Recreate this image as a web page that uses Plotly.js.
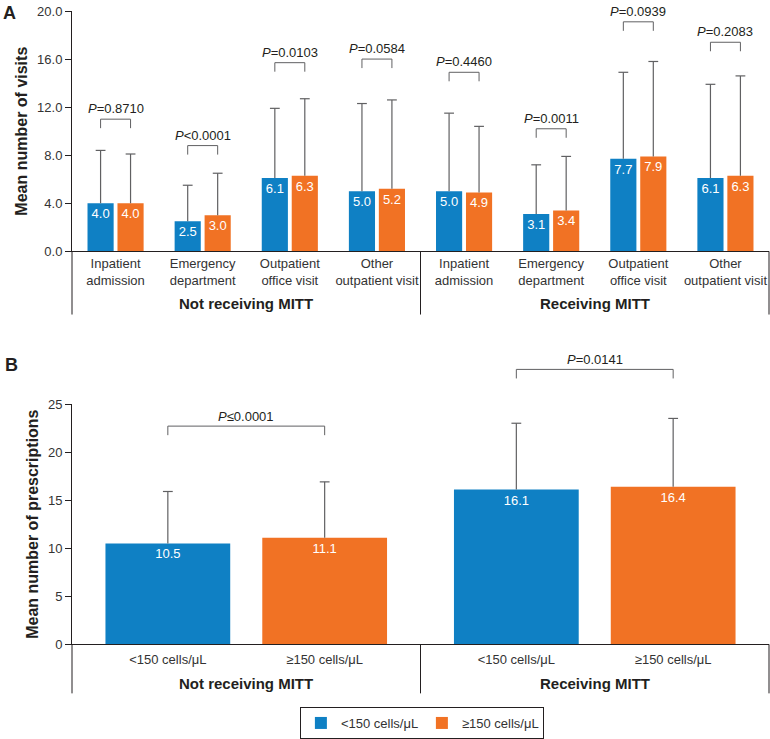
<!DOCTYPE html>
<html>
<head>
<meta charset="utf-8">
<script src="https://cdn.plot.ly/plotly-3.0.1.min.js"></script>
<style>html,body{margin:0;padding:0;background:#fff;}#chart{width:770px;height:739px;}</style>
</head>
<body>
<div id="chart"></div>
<script>
// ---------- data ----------
const visitCategories = ['Inpatient<br>admission', 'Emergency<br>department', 'Outpatient<br>office visit', 'Other<br>outpatient visit',
                         'Inpatient<br>admission', 'Emergency<br>department', 'Outpatient<br>office visit', 'Other<br>outpatient visit'];
const cohortGroups = ['Not receiving MITT', 'Receiving MITT'];
const seriesNames = ['<150 cells/μL', '≥150 cells/μL'];

const visitsLow = [4.0, 2.5, 6.1, 5.0, 5.0, 3.1, 7.7, 6.1];
const visitsHigh = [4.0, 3.0, 6.3, 5.2, 4.9, 3.4, 7.9, 6.3];
const visitsLowSD = [4.4, 3.0, 5.8, 7.3, 6.5, 4.1, 7.2, 7.8];
const visitsHighSD = [4.1, 3.5, 6.4, 7.4, 5.5, 4.5, 7.9, 8.3];
const visitsPValues = ['P=0.8710', 'P<0.0001', 'P=0.0103', 'P=0.0584', 'P=0.4460', 'P=0.0011', 'P=0.0939', 'P=0.2083'];
const visitsBracketLevel = [11.0, 8.8, 15.7, 16.0, 14.9, 10.2, 19.1, 17.4];

const rxLow = [10.5, 16.1];
const rxHigh = [11.1, 16.4];
const rxLowSD = [5.4, 6.9];
const rxHighSD = [5.8, 7.1];
const rxPValues = ['P≤0.0001', 'P=0.0141'];
const rxBracketLevel = [22.7, 28.6];

// ---------- style ----------
const BLUE = '#0f80c4';
const ORANGE = '#f17224';
const INK = '#231f20';
const TXT = '#333333';
const GREY = '#606062';
const FONT = 'Liberation Sans, Arial, sans-serif';

const esc = s => s.replace(/</g, '&lt;');
const fmtP = s => '<i>P</i>' + esc(s.slice(1));

const aHalf = 0.172, aW = 0.30;
const bHalf = 0.225, bW = 0.358;
const idxA = visitsLow.map((_, i) => i);
const idxB = rxLow.map((_, i) => i);

function errBar(arr) {
  return {type: 'data', symmetric: false, array: arr, arrayminus: arr.map(() => 0),
          color: GREY, thickness: 1.2, width: 0};
}
function barTrace(name, x, y, sd, xa, ya, offset, w, color, group, legend) {
  return {type: 'bar', name: esc(name), x: x, y: y, xaxis: xa, yaxis: ya,
    offset: offset, width: w, marker: {color: color}, error_y: errBar(sd),
    text: y.map(v => v.toFixed(1)), textposition: 'inside', insidetextanchor: 'end', textangle: 0,
    insidetextfont: {color: '#ffffff', size: 13, family: FONT}, legendgroup: group, showlegend: legend, hoverinfo: 'y'};
}
function capTrace(x, y, sd, shift, xa, ya) {
  return {type: 'scatter', mode: 'markers', x: x.map(i => i + shift), y: y.map((v, k) => v + sd[k]),
    xaxis: xa, yaxis: ya, showlegend: false, hoverinfo: 'skip', cliponaxis: false,
    marker: {symbol: 'line-ew', size: 7, line: {color: GREY, width: 1.2}}};
}

const traces = [
  barTrace(seriesNames[0], idxA, visitsLow, visitsLowSD, 'x', 'y', -aHalf - aW / 2, aW, BLUE, 'lo', true),
  barTrace(seriesNames[1], idxA, visitsHigh, visitsHighSD, 'x', 'y', aHalf - aW / 2, aW, ORANGE, 'hi', true),
  barTrace(seriesNames[0], idxB, rxLow, rxLowSD, 'x2', 'y2', -bHalf - bW / 2, bW, BLUE, 'lo', false),
  barTrace(seriesNames[1], idxB, rxHigh, rxHighSD, 'x2', 'y2', bHalf - bW / 2, bW, ORANGE, 'hi', false),
  capTrace(idxA, visitsLow, visitsLowSD, -aHalf, 'x', 'y'),
  capTrace(idxA, visitsHigh, visitsHighSD, aHalf, 'x', 'y'),
  capTrace(idxB, rxLow, rxLowSD, -bHalf, 'x2', 'y2'),
  capTrace(idxB, rxHigh, rxHighSD, bHalf, 'x2', 'y2')
];

const shapes = [];
const annotations = [];

// P-value brackets, panel A
const legA = 0.75;
idxA.forEach(i => {
  const lv = visitsBracketLevel[i];
  shapes.push({type: 'path', xref: 'x', yref: 'y', line: {color: GREY, width: 1},
    path: `M${i - aHalf},${lv - legA} L${i - aHalf},${lv} L${i + aHalf},${lv} L${i + aHalf},${lv - legA}`});
  annotations.push({xref: 'x', yref: 'y', x: i, y: lv, yanchor: 'bottom', yshift: 1, showarrow: false,
    text: fmtP(visitsPValues[i]), font: {size: 13, color: INK, family: FONT}});
});
// P-value brackets, panel B (domain refs so they can sit above the axis range)
const rangeB = [0, 25];
const legB = 0.94;
idxB.forEach(i => {
  const lv = rxBracketLevel[i] / rangeB[1], lo = (rxBracketLevel[i] - legB) / rangeB[1];
  shapes.push({type: 'path', xref: 'x2', yref: 'y2 domain', line: {color: GREY, width: 1},
    path: `M${i - bHalf},${lo} L${i - bHalf},${lv} L${i + bHalf},${lv} L${i + bHalf},${lo}`});
  annotations.push({xref: 'x2', yref: 'y2 domain', x: i, y: lv, yanchor: 'bottom', yshift: 0, showarrow: false,
    text: fmtP(rxPValues[i]), font: {size: 13, color: INK, family: FONT}});
});

// bottom category boxes
[0, 0.5, 1].forEach(xd => {
  shapes.push({type: 'line', xref: 'x domain', yref: 'y domain', x0: xd, x1: xd, y0: 0, y1: -0.263, line: {color: INK, width: 1}});
  shapes.push({type: 'line', xref: 'x2 domain', yref: 'y2 domain', x0: xd, x1: xd, y0: 0, y1: -0.204, line: {color: INK, width: 1}});
});

// group labels
cohortGroups.forEach((g, k) => {
  annotations.push({xref: 'x domain', yref: 'y domain', x: 0.25 + 0.5 * k, y: -0.216, yanchor: 'middle', xanchor: 'center', showarrow: false,
    text: '<b>' + g + '</b>', font: {size: 15, color: INK, family: FONT}});
  annotations.push({xref: 'x2', yref: 'y2 domain', x: k, y: -0.163, yanchor: 'middle', xanchor: 'center', showarrow: false,
    text: '<b>' + g + '</b>', font: {size: 15, color: INK, family: FONT}});
});

// panel letters
annotations.push({xref: 'paper', yref: 'paper', x: -0.102, y: 0.998, xanchor: 'left', yanchor: 'top', showarrow: false,
  text: '<b>A</b>', font: {size: 18, color: INK, family: FONT}});
annotations.push({xref: 'paper', yref: 'paper', x: -0.099, y: 0.523, xanchor: 'left', yanchor: 'top', showarrow: false,
  text: '<b>B</b>', font: {size: 18, color: INK, family: FONT}});

const tickB = [];
const tickTextB = [];
idxB.forEach(i => { tickB.push(i - bHalf, i + bHalf); tickTextB.push(esc(seriesNames[0]), esc(seriesNames[1])); });

const axBase = {showgrid: false, zeroline: false, showline: true, linecolor: INK, linewidth: 1,
  tickfont: {size: 13, color: TXT, family: FONT}};

const layout = {
  width: 770, height: 739,
  margin: {l: 72, r: 1, t: 0, b: 0, autoexpand: false},
  paper_bgcolor: '#ffffff', plot_bgcolor: '#ffffff',
  font: {family: FONT, color: INK},
  barmode: 'overlay',
  showlegend: true,
  legend: {orientation: 'h', x: 0.502, xanchor: 'center', y: 0.0, yanchor: 'bottom',
    bordercolor: INK, borderwidth: 1, bgcolor: '#ffffff', font: {size: 13, color: TXT, family: FONT},
    itemwidth: 30, traceorder: 'normal', entrywidth: 76, entrywidthmode: 'pixels'},
  xaxis: Object.assign({}, axBase, {domain: [0, 1], anchor: 'y', range: [-0.5, 7.5],
    ticks: '', tickvals: idxA, ticktext: visitCategories}),
  yaxis: Object.assign({}, axBase, {domain: [0.6599, 0.9851], anchor: 'x', range: [0, 20], dtick: 4, tickformat: '.1f',
    ticks: 'outside', ticklen: 6, tickcolor: INK,
    title: {text: '<b>Mean number of visits</b>', font: {size: 16, color: INK, family: FONT}, standoff: 5}}),
  xaxis2: Object.assign({}, axBase, {domain: [0, 1], anchor: 'y2', range: [-0.5, 1.5],
    ticks: 'outside', ticklen: 3, tickcolor: 'rgba(0,0,0,0)',
    tickvals: tickB, ticktext: tickTextB}),
  yaxis2: Object.assign({}, axBase, {domain: [0.1281, 0.4533], anchor: 'x2', range: rangeB, dtick: 5,
    ticks: 'outside', ticklen: 6, tickcolor: INK,
    title: {text: '<b>Mean number of prescriptions</b>', font: {size: 16, color: INK, family: FONT}, standoff: 5}}),
  shapes: shapes,
  annotations: annotations
};

Plotly.newPlot('chart', traces, layout, {displayModeBar: false, staticPlot: true});
</script>
</body>
</html>
